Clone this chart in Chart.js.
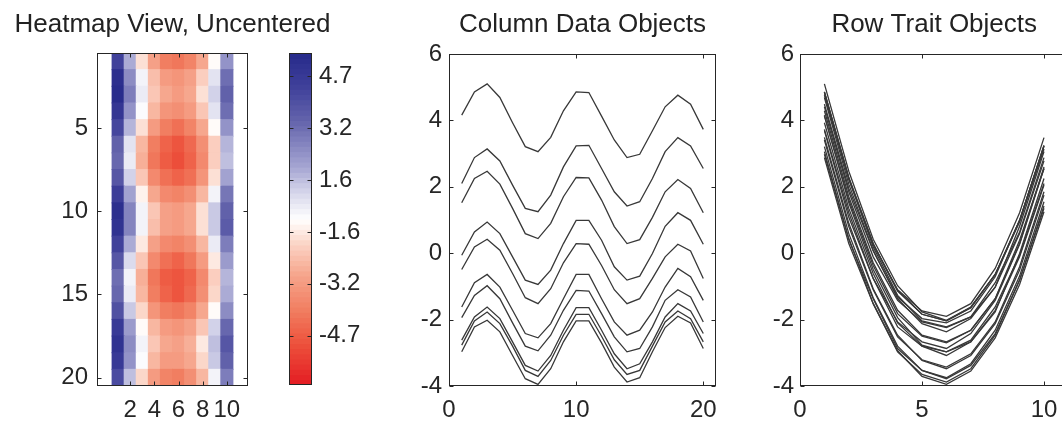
<!DOCTYPE html>
<html>
<head>
<meta charset="utf-8">
<title>Heatmap, column and row profiles</title>
<script src="https://cdn.jsdelivr.net/npm/chart.js@4.4.1/dist/chart.umd.min.js"></script>
<style>
  html, body { margin: 0; padding: 0; background: #fff; overflow: hidden; }
  #page { position: relative; width: 1062px; height: 423px; overflow: hidden; }
  #page canvas { position: absolute; top: 0; }
</style>
</head>
<body>
<div id="page">
  <canvas id="heat" width="360" height="423" style="left:0px"></canvas>
  <canvas id="cbar" width="110" height="423" style="left:270px"></canvas>
  <canvas id="cols" width="360" height="423" style="left:380px"></canvas>
  <canvas id="rows" width="360" height="423" style="left:730px"></canvas>
</div>
<script>
// matrix values, one array per column (20 rows each)
const column1  = [4.16, 4.86, 5.10, 4.69, 3.93, 3.21, 3.06, 3.49, 4.29, 4.86, 4.84, 4.13, 3.41, 2.88, 2.98, 3.69, 4.41, 4.76, 4.49, 3.73];
const column2  = [1.52, 2.25, 2.47, 2.08, 1.35, 0.59, 0.44, 0.90, 1.70, 2.28, 2.27, 1.60, 0.80, 0.29, 0.41, 1.08, 1.85, 2.22, 1.95, 1.22];
const column3  = [-0.49, 0.19, 0.42, 0.09, -0.61, -1.34, -1.52, -1.07, -0.29, 0.29, 0.27, -0.37, -1.10, -1.52, -1.37, -0.76, -0.11, 0.27, 0.07, -0.76];
const column4  = [-1.94, -1.27, -0.98, -1.37, -2.10, -2.80, -2.94, -2.47, -1.72, -1.12, -1.14, -1.82, -2.52, -2.97, -2.87, -2.22, -1.42, -1.10, -1.32, -2.07];
const column5  = [-2.77, -2.04, -1.77, -2.12, -2.80, -3.53, -3.71, -3.23, -2.47, -1.84, -1.84, -2.50, -3.21, -3.65, -3.53, -2.80, -2.07, -1.74, -1.97, -2.67];
const column6  = [-2.97, -2.22, -2.02, -2.37, -3.08, -3.78, -3.95, -3.48, -2.67, -2.04, -2.04, -2.70, -3.43, -3.88, -3.75, -2.97, -2.24, -1.90, -2.10, -2.87];
const column7  = [-2.62, -1.92, -1.62, -1.97, -2.67, -3.38, -3.55, -3.08, -2.32, -1.64, -1.64, -2.32, -3.03, -3.48, -3.33, -2.67, -1.92, -1.52, -1.74, -2.42];
const column8  = [-1.62, -0.89, -0.64, -1.02, -1.72, -2.42, -2.55, -2.12, -1.37, -0.64, -0.64, -1.37, -2.07, -2.47, -2.32, -1.77, -1.02, -0.46, -0.71, -1.42];
const column9  = [-0.06, 0.64, 0.94, 0.59, -0.11, -0.81, -0.94, -0.51, 0.29, 0.99, 0.99, 0.39, -0.41, -0.81, -0.69, -0.01, 0.81, 1.22, 0.99, 0.27];
const column10 = [2.10, 2.88, 3.14, 2.78, 2.05, 1.35, 1.25, 1.75, 2.60, 3.23, 3.25, 2.55, 1.85, 1.42, 1.55, 2.25, 3.06, 3.48, 3.23, 2.55];

const columns = [column1, column2, column3, column4, column5, column6, column7, column8, column9, column10];

// tick values / labels
const heatXTicks = [2, 4, 6, 8, 10];
const heatYTicks = [5, 10, 15, 20];
const cbarTickLevels = [10, 20, 30, 40, 50, 60];
const cbarTickLabels = ['-4.7', '-3.2', '-1.6', '1.6', '3.2', '4.7'];
const colXTicks = [0, 10, 20];
const rowXTicks = [0, 5, 10];
const lineYTicks = [-4, -2, 0, 2, 4, 6];

const rowCount = column1.length;
const colCount = columns.length;
const rows = Array.from({ length: rowCount }, (_, r) => columns.map(c => c[r]));

// red - white - blue colormap, 64 levels
const cbarLevels = 64;
const cmapStops = [0, 0.12, 0.22, 0.33, 0.42, 0.5, 0.58, 0.66, 0.8, 0.9, 1];
const cmapColors = [
  [228, 30, 36], [237, 82, 60], [241, 125, 96], [246, 165, 140], [251, 210, 195],
  [255, 255, 255],
  [215, 215, 235], [165, 165, 210], [100, 100, 172], [65, 66, 155], [40, 44, 140]
];

function cmap(f) {
  f = Math.max(0, Math.min(1, f));
  let i = 0;
  while (i < cmapStops.length - 2 && f > cmapStops[i + 1]) i++;
  const t = (f - cmapStops[i]) / (cmapStops[i + 1] - cmapStops[i]);
  const a = cmapColors[i], b = cmapColors[i + 1];
  const c = a.map((v, k) => Math.round(v + (b[k] - v) * t));
  return `rgb(${c[0]},${c[1]},${c[2]})`;
}
const levelColor = l => cmap((l - 1) / (cbarLevels - 1));
const vmax = Math.max(...columns.flat().map(Math.abs));
const valueLevel = v => Math.round((v + vmax) / (2 * vmax) * (cbarLevels - 1)) + 1;

Chart.defaults.font.family = '"Liberation Sans", Arial, Helvetica, sans-serif';
Chart.defaults.font.size = 24;
Chart.defaults.color = '#262626';

// centred title above the plot area
const panelTitle = {
  id: 'panelTitle',
  afterDraw(chart, args, opts) {
    if (!opts.text) return;
    const { ctx, chartArea } = chart;
    ctx.save();
    ctx.font = '26px "Liberation Sans", Arial, Helvetica, sans-serif';
    ctx.fillStyle = '#222';
    ctx.textAlign = 'center';
    ctx.textBaseline = 'alphabetic';
    ctx.fillText(opts.text, (chartArea.left + chartArea.right) / 2, opts.y);
    ctx.restore();
  }
};

// boxed axes with short inward ticks on every side
const axesBox = {
  id: 'axesBox',
  afterDatasetsDraw(chart, args, opts) {
    const { ctx, chartArea: a } = chart;
    const len = opts.tickLength || 4;
    const L = Math.round(a.left) + 0.5, R = Math.round(a.right) - 0.5;
    const T = Math.round(a.top) + 0.5, B = Math.round(a.bottom) - 0.5;
    ctx.save();
    ctx.strokeStyle = '#262626';
    ctx.lineWidth = 1;
    ctx.strokeRect(L, T, R - L, B - T);
    ctx.beginPath();
    Object.values(chart.scales).forEach(s => {
      if (!s.options.display) return;
      s.ticks.forEach(t => {
        const p = Math.round(s.getPixelForValue(t.value)) + 0.5;
        if (s.isHorizontal()) {
          ctx.moveTo(p, B); ctx.lineTo(p, B - len);
          ctx.moveTo(p, T); ctx.lineTo(p, T + len);
        } else {
          ctx.moveTo(L, p); ctx.lineTo(L + len, p);
          ctx.moveTo(R, p); ctx.lineTo(R - len, p);
        }
      });
    });
    ctx.stroke();
    ctx.restore();
  }
};

Chart.register(panelTitle, axesBox);

function fixedTicks(values) {
  return s => { s.ticks = values.map(v => ({ value: v })); };
}

function axis(opts) {
  return Object.assign({
    type: 'linear',
    grid: { display: false, drawTicks: false },
    border: { display: false },
    ticks: { padding: 8, maxRotation: 0, autoSkip: false }
  }, opts);
}

const baseOptions = {
  responsive: false,
  animation: false,
  events: [],
};

// heatmap cells as floating bars
const heatCells = [];
for (let r = 0; r < rowCount; r++) {
  for (let c = 0; c < colCount; c++) {
    heatCells.push({ x: c + 1, y: [r + 0.5, r + 1.5], v: columns[c][r] });
  }
}

new Chart(document.getElementById('heat'), {
  type: 'bar',
  data: {
    datasets: [{
      data: heatCells,
      backgroundColor: ctx => ctx.raw ? levelColor(valueLevel(ctx.raw.v)) : '#fff',
      borderWidth: 0,
      barPercentage: 1,
      categoryPercentage: 1,
      inflateAmount: 0.5
    }]
  },
  options: Object.assign({}, baseOptions, {
    layout: { padding: { top: 53, right: 112, left: 0, bottom: 0 } },
    plugins: {
      legend: { display: false }, tooltip: { enabled: false },
      panelTitle: { text: 'Heatmap View, Uncentered', y: 32 }
    },
    scales: {
      x: axis({ min: 0.5, max: 10.5, ticks: { padding: 10, maxRotation: 0, autoSkip: false },
        afterBuildTicks: fixedTicks(heatXTicks), afterFit: s => { s.height = 37; } }),
      y: axis({ min: 0.5, max: 20.5, reverse: true, ticks: { padding: 9, autoSkip: false },
        afterBuildTicks: fixedTicks(heatYTicks), afterFit: s => { s.width = 97; } })
    }
  })
});

// colour bar
const levels = Array.from({ length: cbarLevels }, (_, i) => i + 1);
new Chart(document.getElementById('cbar'), {
  type: 'bar',
  data: {
    labels: ['cb'],
    datasets: [{
      data: levels.map(l => ({ x: 'cb', y: [l - 0.5, l + 0.5], l })),
      backgroundColor: ctx => ctx.raw ? levelColor(ctx.raw.l) : '#fff',
      borderWidth: 0,
      barPercentage: 1,
      categoryPercentage: 1,
      inflateAmount: 0.5
    }]
  },
  options: Object.assign({}, baseOptions, {
    layout: { padding: { top: 53, right: 0, left: 19, bottom: 38 } },
    plugins: { legend: { display: false }, tooltip: { enabled: false } },
    scales: {
      x: { type: 'category', display: false },
      y: axis({ position: 'right', min: 0.5, max: cbarLevels + 0.5,
        ticks: { padding: 7, autoSkip: false, callback: v => cbarTickLabels[cbarTickLevels.indexOf(v)] },
        afterBuildTicks: fixedTicks(cbarTickLevels), afterFit: s => { s.width = 68; } })
    }
  })
});

function lineSet(values) {
  return {
    data: values.map((y, i) => ({ x: i + 1, y })),
    borderColor: '#383838',
    borderWidth: 1.3,
    pointRadius: 0,
    tension: 0,
    fill: false
  };
}

// column profiles across rows
new Chart(document.getElementById('cols'), {
  type: 'line',
  data: { datasets: columns.map(lineSet) },
  options: Object.assign({}, baseOptions, {
    layout: { padding: { top: 54, right: 24, left: 0, bottom: 0 } },
    plugins: {
      legend: { display: false }, tooltip: { enabled: false },
      panelTitle: { text: 'Column Data Objects', y: 32 }
    },
    scales: {
      x: axis({ min: 0, max: 21, ticks: { padding: 10, maxRotation: 0, autoSkip: false },
        afterBuildTicks: fixedTicks(colXTicks), afterFit: s => { s.height = 37; } }),
      y: axis({ min: -4, max: 6, ticks: { padding: 7, autoSkip: false },
        afterBuildTicks: fixedTicks(lineYTicks), afterFit: s => { s.width = 69; } })
    }
  })
});

// row profiles across columns
new Chart(document.getElementById('rows'), {
  type: 'line',
  data: { datasets: rows.map(lineSet) },
  options: Object.assign({}, baseOptions, {
    layout: { padding: { top: 54, right: 21.6, left: 0, bottom: 0 } },
    plugins: {
      legend: { display: false }, tooltip: { enabled: false },
      panelTitle: { text: 'Row Trait Objects', y: 32 }
    },
    scales: {
      x: axis({ min: 0, max: 11, ticks: { padding: 10, maxRotation: 0, autoSkip: false },
        afterBuildTicks: fixedTicks(rowXTicks), afterFit: s => { s.height = 37; } }),
      y: axis({ min: -4, max: 6, ticks: { padding: 6, autoSkip: false },
        afterBuildTicks: fixedTicks(lineYTicks), afterFit: s => { s.width = 70; } })
    }
  })
});
</script>
</body>
</html>
